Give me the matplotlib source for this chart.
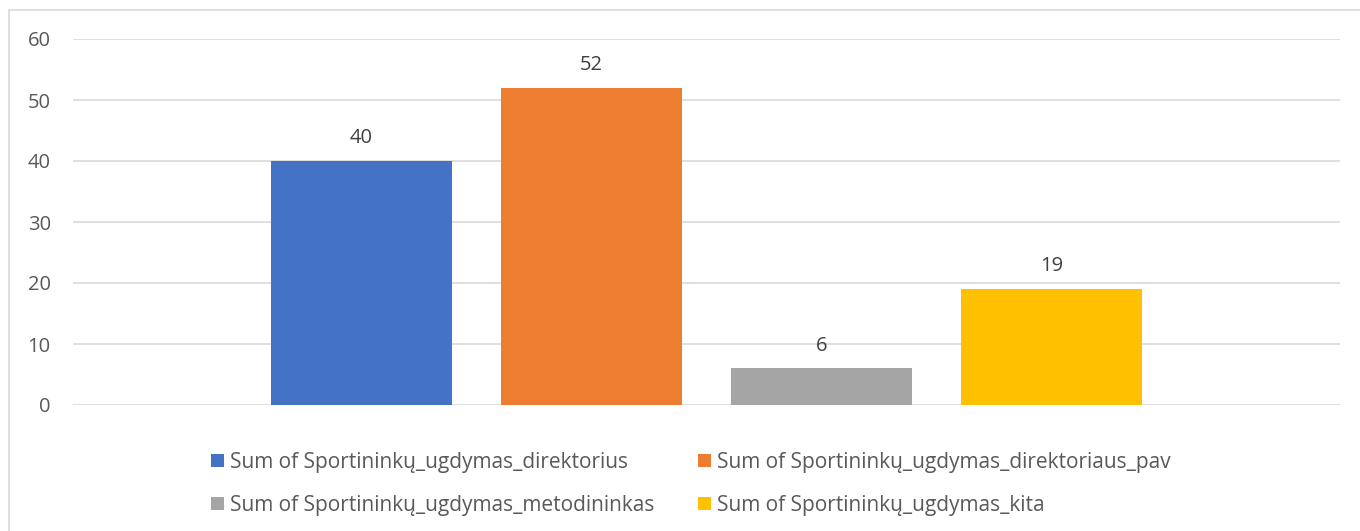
import numpy as np
import matplotlib.pyplot as plt
from matplotlib.patches import Rectangle

series = ['Sum of Sportininkų_ugdymas_direktorius',
          'Sum of Sportininkų_ugdymas_direktoriaus_pav',
          'Sum of Sportininkų_ugdymas_metodininkas',
          'Sum of Sportininkų_ugdymas_kita']
values = [40, 52, 6, 19]
colors = ['#4472C4', '#ED7D31', '#A5A5A5', '#FFC000']
yticks = [0, 10, 20, 30, 40, 50, 60]

plt.rcParams['font.family'] = ['Open Sans', 'DejaVu Sans']
txt = '#595959'
fs = 14.5

fig = plt.figure(figsize=(13.6, 5.31), dpi=100)
ax = fig.add_axes([73/1360, 1-405/531, 1267/1360, 366/531])

x = np.arange(len(values))
bars = ax.bar(x, values, width=0.79, color=colors, label=series, zorder=3)
for xi, v in zip(x, values):
    ax.text(xi, v + 2.1, str(v), ha='center', va='bottom', fontsize=fs, color='#404040')

ax.set_xlim(1.5 - 2.755, 1.5 + 2.755)
ax.set_ylim(0, 60)
ax.set_yticks(yticks)
ax.set_xticks([])
ax.tick_params(axis='y', length=0, pad=16, labelsize=fs, labelcolor=txt)
ax.grid(axis='y', color='#d9d9d9', linewidth=1.2, zorder=0)
for s in ax.spines.values():
    s.set_visible(False)

# legend fills column-wise, so reorder to read row-wise like the reference
order = [0, 2, 1, 3]
fig.legend(handles=[bars[i] for i in order], labels=[series[i] for i in order],
           ncol=2, loc='upper left',
           bbox_to_anchor=(192/1360, 1-433/531), frameon=False,
           fontsize=15, labelcolor=txt, handlelength=0.62, handleheight=0.62,
           handletextpad=0.3, columnspacing=2.1, labelspacing=1.05)

fig.patches.append(Rectangle((9/1360, -0.05), 1.1, 1-10/531+0.05, transform=fig.transFigure,
                             fill=False, edgecolor='#d9d9d9', linewidth=1.2))

fig.savefig('out.png', dpi=100)
